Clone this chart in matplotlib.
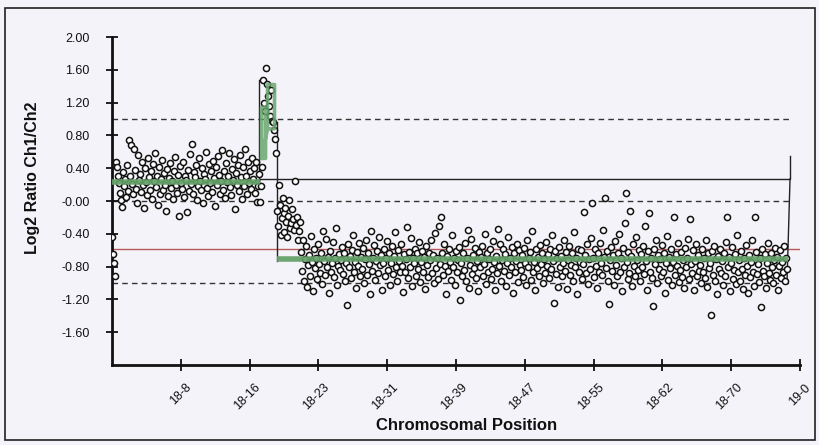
import numpy as np
import matplotlib
matplotlib.use("Agg")
import matplotlib.pyplot as plt
from matplotlib.patches import Rectangle
from matplotlib.transforms import ScaledTranslation

plt.rcParams['font.family'] = ['Liberation Sans', 'DejaVu Sans']

# ---------------- data ----------------
# log2 ratio per probe (probe order along chromosome 18)
gain_left = [
    -0.44, -0.65, -0.75, -0.91, 0.47, 0.41, 0.31, 0.22, 0.10, 0.01, -0.07, 0.35, 0.18, 0.27, 0.05, 0.44, 0.12, 0.74, 0.30, 0.68,
    0.21, 0.08, 0.64, 0.38, 0.15, -0.02, 0.56, 0.26, 0.33, 0.11, 0.47, 0.19, -0.08, 0.40, 0.23, 0.07, 0.52, 0.29, 0.14, 0.36,
    0.02, 0.45, 0.24, 0.58, 0.17, 0.31, -0.05, 0.42, 0.09, 0.27, 0.50, 0.13, 0.34, 0.20, -0.12, 0.39, 0.06, 0.28, 0.46, 0.16,
    0.25, 0.03, 0.37, 0.54, 0.19, 0.10, 0.32, -0.18, 0.43, 0.22, 0.15, 0.48, 0.05, 0.30, 0.26, -0.14, 0.38, 0.12, 0.57, 0.21,
    0.70, 0.08, 0.35, 0.29, 0.44, 0.01, 0.18, 0.52, 0.24, 0.13, 0.40, -0.03, 0.33, 0.27, 0.60, 0.16, 0.06, 0.45, 0.22, 0.36,
    0.11, 0.49, 0.28, -0.06, 0.41, 0.19, 0.55, 0.32, 0.09, 0.25, 0.62, 0.14, 0.37, 0.04, 0.46, 0.23, 0.30, 0.58, 0.17, 0.07,
    0.39, 0.26, 0.51, -0.10, 0.34, 0.20, 0.44, 0.12, 0.56, 0.29, 0.03, 0.42, 0.18, 0.63, 0.31, 0.08, 0.48, 0.22, 0.36, 0.15,
    0.53, 0.27, 0.40, 0.10, 0.47, -0.01, 0.18, 0.33,
]
spike = [-0.01, 0.18, 0.41, 1.48, 1.19, 1.10, 1.62, 1.43, 1.28, 1.16, 1.04, 1.35, 0.98, 0.96, 0.86, 0.76, 0.58]
transition = [-0.12, -0.30, 0.19, -0.05, -0.41, -0.21, 0.04, -0.15, -0.38, -0.08, -0.25, -0.44, -0.18, 0.01, -0.33,
              -0.27, -0.10, -0.22, -0.35, 0.24, -0.29, -0.19, -0.48, -0.36, -0.26]
loss_right = [
    -0.62, -0.85, -0.48, -0.97, -0.71, -0.55, -1.05, -0.78, -0.66, -0.91, -0.43, -0.74, -1.10, -0.59, -0.82, -0.69, -0.95, -0.52, -0.77, -0.88,
    -0.64, -1.01, -0.37, -0.73, -0.90, -0.46, -0.80, -0.68, -1.12, -0.61, -0.86, -0.75, -0.50, -0.93, -0.70, -0.33, -1.03, -0.79, -0.65, -0.84,
    -0.72, -0.56, -0.89, -0.63, -0.98, -0.76, -1.27, -0.53, -0.81, -0.67, -0.94, -0.60, -0.41, -0.87, -0.74, -1.06, -0.62, -0.79, -0.51, -0.92,
    -0.68, -0.83, -0.57, -1.00, -0.71, -0.47, -0.90, -0.64, -0.77, -1.14, -0.36, -0.85, -0.69, -0.54, -0.96, -0.73, -0.61, -0.88, -0.44, -0.78,
    -0.66, -1.08, -0.75, -0.58, -0.92, -0.70, -0.49, -0.84, -0.63, -1.02, -0.76, -0.55, -0.89, -0.67, -0.38, -0.81, -0.97, -0.60, -0.73, -0.86,
    -0.52, -0.79, -1.11, -0.65, -0.87, -0.71, -0.32, -0.94, -0.62, -0.80, -0.45, -1.04, -0.69, -0.76, -0.58, -0.91, -0.64, -0.83, -0.50, -0.99,
    -0.74, -0.61, -0.86, -0.68, -1.07, -0.55, -0.78, -0.93, -0.63, -0.72, -0.48, -0.88, -0.66, -1.00, -0.39, -0.82, -0.70, -0.95, -0.30, -0.77,
    -0.20, -0.64, -0.90, -0.53, -0.79, -1.13, -0.67, -0.85, -0.58, -0.74, -0.96, -0.42, -0.81, -0.69, -1.03, -0.61, -0.87, -0.72, -0.56, -1.21,
    -0.75, -0.92, -0.63, -0.84, -0.51, -0.98, -0.70, -0.35, -1.06, -0.78, -0.46, -0.89, -0.66, -0.82, -0.57, -0.94, -0.73, -1.10, -0.62, -0.80,
    -0.68, -0.55, -0.91, -0.77, -0.40, -1.01, -0.64, -0.86, -0.71, -0.59, -0.95, -0.83, -0.49, -0.74, -1.08, -0.67, -0.88, -0.34, -0.79, -0.53,
    -0.97, -0.72, -0.58, -0.85, -0.65, -1.04, -0.76, -0.44, -0.90, -0.69, -0.81, -0.56, -1.12, -0.63, -0.87, -0.73, -0.52, -0.99, -0.60, -0.78,
    -0.84, -0.66, -0.93, -0.57, -0.75, -1.02, -0.48, -0.80, -0.70, -0.62, -0.96, -0.36, -0.86, -0.74, -1.09, -0.59, -0.82, -0.68, -0.91, -0.54,
    -0.77, -0.63, -1.00, -0.71, -0.88, -0.50, -0.79, -0.65, -0.94, -0.58, -0.83, -0.42, -0.73, -1.24, -0.61, -0.89, -0.69, -1.05, -0.56, -0.80,
    -0.67, -0.92, -0.75, -0.47, -0.85, -0.62, -1.07, -0.72, -0.55, -0.90, -0.78, -0.64, -0.98, -0.38, -0.81, -0.70, -1.13, -0.59, -0.86, -0.74,
    -0.60, -0.95, -0.77, -0.13, -0.66, -0.88, -0.53, -1.01, -0.71, -0.83, -0.45, -0.03, -0.69, -0.93, -0.58, -0.79, -1.06, -0.64, -0.87, -0.51,
    -0.76, -0.90, -0.35, -0.68, 0.04, -0.82, -0.61, -0.97, -1.26, -0.72, -0.56, -0.85, -0.66, -1.03, -0.49, -0.78, -0.92, -0.63, -0.40, -0.87,
    -0.70, -1.10, -0.57, -0.81, -0.27, 0.10, -0.74, -0.95, -0.62, -0.88, -0.12, -0.67, -1.04, -0.53, -0.79, -0.91, -0.44, -0.72, -0.84, -0.60,
    -0.98, -0.65, -0.80, -0.55, -0.89, -0.31, -0.73, -1.08, -0.61, -0.15, -0.86, -0.69, -0.94, -1.28, -0.58, -0.77, -0.48, -1.00, -0.66, -0.83,
    -0.71, -0.92, -0.54, -0.87, -0.63, -1.12, -0.76, -0.43, -0.96, -0.68, -0.82, -0.59, -1.02, -0.74, -0.20, -0.90, -0.65, -0.79, -0.51, -0.99,
    -0.84, -0.62, -0.93, -0.72, -1.06, -0.57, -0.81, -0.69, -0.46, -0.95, -0.22, -0.77, -0.88, -0.60, -1.09, -0.73, -0.53, -0.91, -0.66, -0.85,
    -0.78, -1.00, -0.58, -0.86, -0.70, -0.94, -0.47, -1.05, -0.64, -0.82, -0.75, -1.39, -0.61, -0.90, -0.55, -0.97, -0.71, -1.14, -0.67, -0.83,
    -0.59, -0.88, -0.73, -1.03, -0.63, -0.92, -0.50, -0.20, -0.80, -0.68, -1.10, -0.76, -0.56, -0.95, -0.84, -0.65, -1.01, -0.42, -0.87, -0.72,
    -0.97, -0.61, -0.83, -1.07, -0.69, -0.90, -0.54, -0.79, -1.12, -0.66, -0.93, -0.74, -0.48, -0.86, -1.04, -0.20, -0.62, -0.89, -0.77, -0.99,
    -0.70, -1.29, -0.58, -0.85, -0.92, -0.65, -1.06, -0.76, -0.51, -0.88, -0.96, -0.63, -0.81, -1.00, -0.72, -0.57, -0.90, -0.68, -1.08, -0.79,
    -0.60, -0.94, -0.74, -0.86, -0.55, -0.97, -0.69, -0.83,
]

n_probes_axis = 690
tick_pos = [69, 138, 207, 276, 345, 414, 483, 552, 621, 690]
tick_labels = ["18-8", "18-16", "18-23", "18-31", "18-39", "18-47", "18-55", "18-62", "18-70", "19-0"]
y_ticks = [2.0, 1.6, 1.2, 0.8, 0.4, 0.0, -0.4, -0.8, -1.2, -1.6]
y_tick_labels = ["2.00", "1.60", "1.20", "0.80", "0.40", "-0.00", "-0.40", "-0.80", "-1.20", "-1.60"]

# segmentation (green) levels
seg_left_x = [0, 148]
seg_left_y = [0.23, 0.23]
seg_spike_x = [150, 150, 154, 154, 150, 156, 156, 163, 163, 156]
seg_spike_y = [0.52, 1.14, 1.14, 0.52, 0.52, 0.88, 1.42, 1.42, 0.88, 0.88]
seg_right_x = [165, 678]
seg_right_y = [-0.71, -0.71]
# black moving line
blk_x = [147, 147, 147, 680, 680]
blk_y = [1.48, 0.18, 0.27, 0.27, 0.55]
brk_x = [165, 165]
brk_y = [0.96, -0.73]
end_x = [677, 680]
end_y = [-0.98, 0.27]
threshold_red = -0.58
dashed_levels = [1.0, 0.0, -1.0]
dashed_end = 681

# ---------------- figure ----------------
bg = '#f3f3f9'
fig = plt.figure(figsize=(8.19, 4.45), dpi=100, facecolor=bg)
ax = fig.add_axes([112/819, 1-365/445, 688/819, 328/445])
ax.set_facecolor(bg)
ax.patch.set_alpha(0)

values = np.array(gain_left + spike + transition + loss_right)
xpos = np.arange(len(values))

for lv in dashed_levels:
    ax.plot([0, dashed_end], [lv, lv], color='#333333', lw=1.0, ls=(0, (4, 3)), zorder=1)

ax.plot([0, n_probes_axis], [threshold_red, threshold_red], color='#b85a5a', lw=1.0, zorder=1)
ax.plot(blk_x, blk_y, color='#222222', lw=1.0, zorder=2)
ax.plot(brk_x, brk_y, color='#222222', lw=1.0, zorder=2)
ax.plot(end_x, end_y, color='#222222', lw=1.0, zorder=2)

ax.plot(xpos, values, ls='none', marker='o', ms=4.4, mfc='white', mec='#111111', mew=1.1, zorder=3)
ax.plot(seg_left_x, seg_left_y, color='#62a066', lw=4.0, alpha=0.92, zorder=4, solid_capstyle='butt')
ax.plot(seg_right_x, seg_right_y, color='#62a066', lw=4.0, alpha=0.92, zorder=4, solid_capstyle='butt')
ax.plot(seg_spike_x, seg_spike_y, color='#6aa66e', lw=2.6, alpha=0.85, zorder=4)

ax.set_xlim(0, n_probes_axis)
ax.set_ylim(-2.0, 2.0)
for s in ['top', 'right']:
    ax.spines[s].set_visible(False)
for s in ['left', 'bottom']:
    ax.spines[s].set_linewidth(2.0)
    ax.spines[s].set_color('#111111')

ax.set_yticks(y_ticks)
ax.set_yticklabels(y_tick_labels, fontsize=9)
ax.set_xticks(tick_pos)
ax.set_xticklabels(tick_labels, fontsize=9, rotation=45, ha='right', va='center', rotation_mode='anchor')
ax.tick_params(axis='y', direction='inout', length=8, width=1.3, pad=12, colors='#111111')
ax.tick_params(axis='x', direction='inout', length=8, width=1.3, pad=11, colors='#111111')
offset = ScaledTranslation(9/100, 0, fig.dpi_scale_trans)
for lab in ax.get_xticklabels():
    lab.set_transform(lab.get_transform() + offset)

fig.text(33/819, 1-178/445, "Log2 Ratio Ch1/Ch2", rotation=90, ha='center', va='center',
         fontsize=11.5, fontweight='bold', color='#111111')
fig.text(467/819, 1-425/445, "Chromosomal Position", ha='center', va='center',
         fontsize=12, fontweight='bold', color='#111111')

fig.patches.append(Rectangle((5/819, 1-440/445), 810/819, 432/445, transform=fig.transFigure,
                             fill=False, lw=1.2, ec='#222222'))

fig.savefig('out.png', dpi=100, facecolor=bg)
